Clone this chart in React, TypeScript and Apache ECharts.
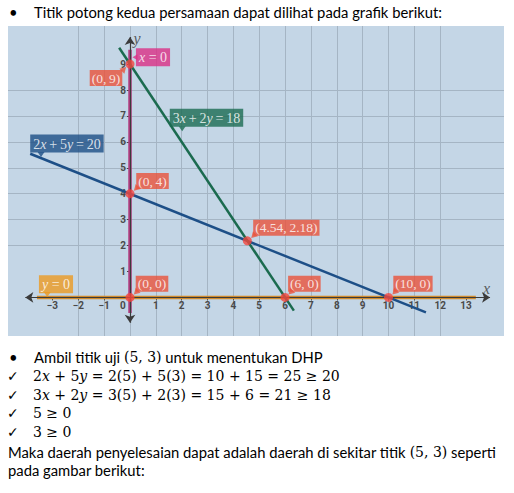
import React, { useEffect, useRef } from "react";
import * as echarts from "echarts";

// ---- data ----
const X_RANGE = [-4.72, 14.47];
const Y_RANGE = [-1.49, 10.47];
const X_TICKS = [-3, -2, -1, 0, 1, 2, 3, 4, 5, 6, 7, 8, 9, 10, 11, 12, 13];
const Y_TICKS = [1, 2, 3, 4, 5, 6, 7, 8, 9];
const X_AXIS_ENDS = [-4.05, 13.93];
const Y_AXIS_ENDS = [-0.98, 10.05];
const LINE_2X5Y = [[-3.86, 5.54], [11.45, -0.58]]; // 2x + 5y = 20
const LINE_3X2Y = [[-0.42, 9.63], [6.34, -0.51]]; // 3x + 2y = 18
const LINE_X0 = [[0, 9.55], [0, -0.6]]; // x = 0
const LINE_Y0 = [[-3.6, 0], [13.38, 0]]; // y = 0
const POINTS = [[0, 9], [0, 4], [0, 0], [4.54, 2.18], [6, 0], [10, 0]];
const POINT_NAMES = ["(0,\u20099)", "(0,\u20094)", "(0,\u20090)", "(4.54,\u20092.18)", "(6,\u20090)", "(10,\u20090)"];
const EQ_ANCHORS = [[0, 9.33], [2, 6], [-3.5, 5.4], [-3.2, 0]];
const EQ_NAMES = [
  "{i|x}{n|\u2005=\u20050}",
  "{n|3}{i|x}{n|\u2009+\u20092}{i|y}{n|\u2009=\u200918}",
  "{n|2}{i|x}{n|\u2009+\u20095}{i|y}{n|\u2009=\u200920}",
  "{i|y}{n|\u2005=\u20050}",
];

const TITLE = "Titik potong kedua persamaan dapat dilihat pada grafik berikut:";

// ---- layout / style (not data) ----
const GRID = { left: 8, top: 26, width: 496, height: 310 };
const POINT_LABEL_OFFSETS = [[-24, 14], [22.5, -12.7], [22, -13.6], [39, -13], [19.3, -13.6], [24.5, -13.6]];
const POINT_PTR = [
  { off: [-6, 5], rot: -45 },
  { off: [6, -5], rot: 135 },
  { off: [6, -5], rot: 135 },
  { off: [6, -5], rot: 135 },
  { off: [5.5, -5], rot: 135 },
  { off: [6, -5], rot: 135 },
];
const EQ_LABEL_OFFSETS = [[23, 1.6], [24.8, -24.2], [27.4, -13.9], [8.7, -13.1]];
const EQ_PTR = [
  { off: [5, 1.6], rot: 90, size: [6, 5] },
  { off: [0.5, -13], rot: 180, size: [7, 5] },
  { off: [1.5, -2.8], rot: 180, size: [7, 5] },
  { off: [0, -3], rot: 180, size: [7, 5] },
];
const EQ_COLORS = ["#db2f86", "#1c6b52", "#1d4f86", "#ec9a22"];

const RED = "#ea523b";
const MATH = "Liberation Serif";
const BODY_MATH = "DejaVu Serif";
const BODY = "Lato";

export default function App() {
  const ref = useRef<HTMLDivElement>(null);
  useEffect(() => {
    if (!ref.current) return;
    const chart = echarts.init(ref.current, null, { renderer: "svg" });

    const tickLabel = {
      fontFamily: "Roboto",
      fontSize: 10,
      fontWeight: "bold" as const,
      color: "#4a4a4a",
    };
    const mathRich = (size: number, color: string) => ({
      i: { fontFamily: MATH, fontStyle: "italic", fontSize: size, color, fill: color },
      n: { fontFamily: MATH, fontSize: size, color, fill: color },
    });

    const bodyRich = {
      t: { fontFamily: BODY, fontSize: 14.8, fill: "#000", color: "#000" },
      m: { fontFamily: BODY_MATH, fontSize: 14, fill: "#000", color: "#000" },
      mi: { fontFamily: BODY_MATH, fontSize: 14, fontStyle: "italic", fill: "#000", color: "#000" },
    };
    const txt = (x: number, y: number, text: string, family = BODY, size = 14.8) => ({
      type: "text",
      x,
      y,
      style: {
        text,
        fontFamily: family,
        fontSize: size,
        fill: "#000",
        verticalAlign: "middle",
        rich: bodyRich,
      },
    });
    const check = (y: number) => txt(7, y, "\u2713", "DejaVu Sans", 14);

    // distance (px) from the grid's bottom / left edge to the zero lines, from the axis scales
    const zeroFromBottom = ((0 - Y_RANGE[0]) / (Y_RANGE[1] - Y_RANGE[0])) * GRID.height;
    const zeroFromLeft = ((0 - X_RANGE[0]) / (X_RANGE[1] - X_RANGE[0])) * GRID.width;

    const axisBase = (min: number, max: number, ticks: number[], split: number) => ({
      type: "value",
      min,
      max,
      minInterval: 1,
      maxInterval: 1,
      splitNumber: split,
      axisLine: { show: false, onZero: false },
      axisTick: { show: true, length: 3, lineStyle: { color: "#444" }, customValues: ticks },
      splitLine: { show: true, showMinLine: false, showMaxLine: false, lineStyle: { color: "#a5b5c4", width: 1 } },
    });

    const option: any = {
      animation: false,
      backgroundColor: "#ffffff",
      grid: {
        ...GRID,
        show: true,
        backgroundColor: "#c4d6e6",
        borderWidth: 0,
        containLabel: false,
        outerBoundsMode: "none",
      },
      xAxis: {
        ...axisBase(X_RANGE[0], X_RANGE[1], X_TICKS, 20),
        position: "bottom",
        offset: -zeroFromBottom,
        axisLabel: {
          show: true,
          margin: 3,
          customValues: X_TICKS,
          ...tickLabel,
          formatter: (v: number) => (v === 0 ? "{z|0}" : v < 0 ? "\u2212" + -v : String(v)),
          rich: { z: { ...tickLabel, padding: [0, 14, 0, 0] } },
        },
      },
      yAxis: {
        ...axisBase(Y_RANGE[0], Y_RANGE[1], Y_TICKS, 12),
        position: "left",
        offset: -zeroFromLeft,
        axisLabel: { show: true, margin: 4, customValues: Y_TICKS, ...tickLabel },
      },
      series: [
        {
          type: "line",
          name: "x = 0",
          data: LINE_X0,
          symbol: "none",
          lineStyle: { color: "#b13e81", width: 3.5 },
          z: 2,
          silent: true,
        },
        {
          type: "line",
          name: "y = 0",
          data: LINE_Y0,
          symbol: "none",
          lineStyle: { color: "#cf8a2c", width: 3.5 },
          z: 2,
          silent: true,
        },
        {
          type: "line",
          name: "axes",
          data: [],
          z: 3,
          markLine: {
            silent: true,
            z: 3,
            symbol: ["arrow", "arrow"],
            symbolSize: [8, 8],
            label: { show: false },
            lineStyle: { color: "#3b3b3b", width: 1.2, type: "solid" },
            emphasis: { disabled: true },
            data: [
              [{ coord: [X_AXIS_ENDS[0], 0] }, { coord: [X_AXIS_ENDS[1], 0] }],
              [{ coord: [0, Y_AXIS_ENDS[0]] }, { coord: [0, Y_AXIS_ENDS[1]] }],
            ],
          },
        },
        {
          type: "line",
          name: "2x + 5y = 20",
          data: LINE_2X5Y,
          symbol: "none",
          lineStyle: { color: "#1d4f87", width: 2.5 },
          z: 4,
          silent: true,
        },
        {
          type: "line",
          name: "3x + 2y = 18",
          data: LINE_3X2Y,
          symbol: "none",
          lineStyle: { color: "#1b6b4f", width: 2.5 },
          z: 4,
          silent: true,
        },
        {
          type: "scatter",
          name: "pointers",
          z: 8,
          silent: true,
          symbol: "triangle",
          symbolSize: [7, 6],
          itemStyle: { color: RED },
          data: POINTS.map((p, i) => ({
            value: p,
            symbolOffset: POINT_PTR[i].off,
            symbolRotate: POINT_PTR[i].rot,
          })),
        },
        {
          type: "scatter",
          name: "points",
          z: 10,
          silent: true,
          symbolSize: 9,
          itemStyle: { color: "#f3463f" },
          label: {
            show: true,
            position: "inside",
            formatter: "{b}",
            backgroundColor: RED,
            color: "#fff",
            padding: [1, 2, 0, 2],
            lineHeight: 15,
            fontFamily: MATH,
            fontSize: 13.5,
          },
          data: POINTS.map((p, i) => ({
            value: p,
            name: POINT_NAMES[i],
            label: { offset: POINT_LABEL_OFFSETS[i] },
          })),
        },
        {
          type: "scatter",
          name: "eqPointers",
          z: 8,
          silent: true,
          symbol: "triangle",
          data: EQ_ANCHORS.map((p, i) => ({
            value: p,
            symbolOffset: EQ_PTR[i].off,
            symbolRotate: EQ_PTR[i].rot,
            symbolSize: EQ_PTR[i].size,
            itemStyle: { color: EQ_COLORS[i] },
          })),
        },
        {
          type: "scatter",
          name: "eqLabels",
          z: 9,
          silent: true,
          symbolSize: 1,
          itemStyle: { color: "rgba(0,0,0,0)" },
          label: {
            show: true,
            position: "inside",
            formatter: (p: any) => EQ_NAMES[p.dataIndex],
            color: "#fff",
            padding: [2, 3, 1, 3],
            lineHeight: 15,
            rich: mathRich(14, "#fff"),
          },
          data: EQ_ANCHORS.map((p, i) => ({
            value: p,
            label: { offset: EQ_LABEL_OFFSETS[i], backgroundColor: EQ_COLORS[i] },
          })),
        },
        {
          type: "scatter",
          name: "axisNames",
          z: 9,
          silent: true,
          symbolSize: 1,
          itemStyle: { color: "rgba(0,0,0,0)" },
          label: {
            show: true,
            position: "inside",
            formatter: (p: any) => (p.dataIndex === 0 ? "x" : "y"),
            fontFamily: MATH,
            fontStyle: "italic",
            fontSize: 16,
            color: "#3a3a3a",
          },
          data: [
            { value: [X_AXIS_ENDS[1], 0], label: { offset: [-3.5, -9] } },
            { value: [0, Y_AXIS_ENDS[1]], label: { offset: [7, 2] } },
          ],
        },
      ],
      graphic: [
        txt(9, 12, "•"),
        txt(34, 12, TITLE),
        txt(9, 357, "•"),
        txt(34, 357, "{t|Ambil titik uji }{m|(5, 3)}{t| untuk menentukan DHP}"),
        check(376),
        txt(33, 376, "{m|2}{mi|x}{m| + 5}{mi|y}{m| = 2(5) + 5(3) = 10 + 15 = 25 \u2265 20}"),
        check(394.5),
        txt(33, 394.5, "{m|3}{mi|x}{m| + 2}{mi|y}{m| = 3(5) + 2(3) = 15 + 6 = 21 \u2265 18}"),
        check(413),
        txt(33, 413, "{m|5 \u2265 0}"),
        check(432),
        txt(33, 432, "{m|3 \u2265 0}"),
        txt(8, 452, "{t|Maka daerah penyelesaian dapat adalah daerah di sekitar titik }{m|(5, 3)}{t| seperti}"),
        txt(8, 470, "pada gambar berikut:"),
      ],
    };
    chart.setOption(option);
    return () => chart.dispose();
  }, []);
  return (
    <div
      ref={ref}
      style={{ position: "absolute", left: 0, top: 0, width: 514, height: 493, background: "#fff" }}
    />
  );
}
